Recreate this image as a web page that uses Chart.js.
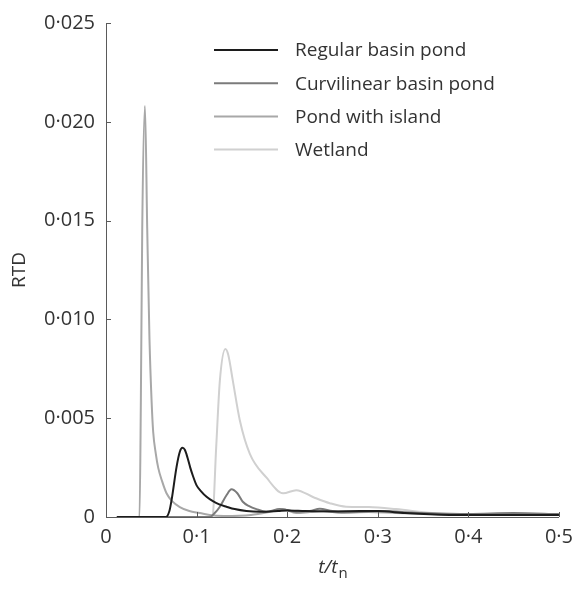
<!DOCTYPE html>
<html>
<head>
<meta charset="utf-8">
<script src="https://cdn.jsdelivr.net/npm/chart.js"></script>
<style>
  body { margin: 0; background: #fff; }
  canvas { display: block; }
</style>
</head>
<body>
<canvas id="rtdChart" width="581" height="589"></canvas>
<script>
// values: t/tn and RTD for each pond
const seriesLabels = ['Regular basin pond', 'Curvilinear basin pond', 'Pond with island', 'Wetland'];
const seriesColours = ['#1c1c1c', '#7b7b7b', '#a8a8a8', '#d0d0d0'];

const regularT = [0.012, 0.066, 0.070, 0.0724, 0.0779, 0.0815, 0.0844, 0.087, 0.09, 0.093, 0.0962, 0.10, 0.105, 0.111, 0.118, 0.125, 0.133, 0.142, 0.155, 0.17, 0.19, 0.2, 0.22, 0.25, 0.28, 0.3, 0.33, 0.37, 0.42, 0.5];
const regularRTD = [0, 0, 0.0003, 0.00086, 0.00254, 0.0033, 0.0035, 0.0034, 0.003, 0.0025, 0.00205, 0.0016, 0.0013, 0.00102, 0.0008, 0.00064, 0.00052, 0.0004, 0.0003, 0.00026, 0.0003, 0.00033, 0.0003, 0.00028, 0.0003, 0.0003, 0.0002, 0.00012, 0.0001, 0.0001];

const curviT = [0.012, 0.1145, 0.12, 0.1257, 0.133, 0.1385, 0.145, 0.151, 0.158, 0.166, 0.177, 0.192, 0.2, 0.21, 0.225, 0.236, 0.25, 0.28, 0.3, 0.35, 0.4, 0.45, 0.5];
const curviRTD = [0, 0, 0.0002, 0.00052, 0.0011, 0.0014, 0.0012, 0.00077, 0.00055, 0.0004, 0.00027, 0.0004, 0.00035, 0.00027, 0.0003, 0.00042, 0.0003, 0.00025, 0.0003, 0.0002, 0.00015, 0.0002, 0.00015];

const islandT = [0.012, 0.037, 0.0385, 0.040, 0.043, 0.0455, 0.048, 0.0503, 0.0521, 0.055, 0.0576, 0.062, 0.0668, 0.073, 0.0815, 0.092, 0.1035, 0.1145, 0.13, 0.16, 0.18, 0.195, 0.21, 0.225, 0.24, 0.26, 0.29, 0.32, 0.36, 0.4, 0.45, 0.5];
const islandRTD = [0, 0, 0.006, 0.0146, 0.0208, 0.0146, 0.009, 0.0059, 0.0043, 0.0032, 0.0025, 0.0018, 0.0012, 0.0008, 0.0005, 0.0003, 0.0002, 0.0001, 0.00005, 0.0001, 0.00025, 0.0004, 0.0002, 0.00025, 0.0003, 0.0002, 0.00025, 0.0002, 0.00015, 0.0001, 0.00012, 0.0001];

const wetlandT = [0.012, 0.1175, 0.1216, 0.1257, 0.1318, 0.135, 0.14, 0.1477, 0.1588, 0.177, 0.1955, 0.21, 0.229, 0.247, 0.265, 0.29, 0.32, 0.36, 0.4, 0.45, 0.5];
const wetlandRTD = [0, 0, 0.0035, 0.0069, 0.0085, 0.0082, 0.0069, 0.0049, 0.0032, 0.002, 0.0012, 0.00136, 0.001, 0.0007, 0.00052, 0.0005, 0.0004, 0.0002, 0.00012, 0.00015, 0.0001];

const xTicks = [0, 0.1, 0.2, 0.3, 0.4, 0.5];
const yTicks = [0, 0.005, 0.010, 0.015, 0.020, 0.025];

const textColour = '#333333';
const axisColour = '#5a5a5a';
const fontFamily = "'Open Sans', sans-serif";

function toPoints(ts, vs) {
  return ts.map((t, i) => ({ x: t, y: vs[i] }));
}

function midDot(v, digits) {
  if (v === 0) return '0';
  return v.toFixed(digits).replace('.', '\u00B7');
}

const allT = [regularT, curviT, islandT, wetlandT];
const allRTD = [regularRTD, curviRTD, islandRTD, wetlandRTD];

const datasets = seriesLabels.map((label, i) => ({
  label: label,
  data: toPoints(allT[i], allRTD[i]),
  borderColor: seriesColours[i],
  backgroundColor: seriesColours[i],
  borderWidth: 2,
  pointRadius: 0,
  cubicInterpolationMode: 'monotone',
  fill: false
}));

// ticks that point into the plot, like the printed figure
const inwardTicks = {
  id: 'inwardTicks',
  afterDraw(chart) {
    const ctx = chart.ctx;
    const xs = chart.scales.x, ys = chart.scales.y;
    const area = chart.chartArea;
    ctx.save();
    ctx.strokeStyle = axisColour;
    ctx.lineWidth = 1;
    ctx.beginPath();
    xTicks.forEach(v => {
      const px = Math.round(xs.getPixelForValue(v)) + 0.5;
      ctx.moveTo(px, area.bottom);
      ctx.lineTo(px, area.bottom - 5);
    });
    yTicks.forEach(v => {
      const py = Math.round(ys.getPixelForValue(v)) + 0.5;
      ctx.moveTo(area.left, py);
      ctx.lineTo(area.left + 5, py);
    });
    ctx.stroke();
    ctx.restore();
  }
};

// axis titles and the legend block
const titlesAndLegend = {
  id: 'titlesAndLegend',
  afterDraw(chart) {
    const ctx = chart.ctx;
    const area = chart.chartArea;
    ctx.save();
    ctx.fillStyle = textColour;

    // y title
    ctx.font = '19px ' + fontFamily;
    ctx.textAlign = 'center';
    ctx.textBaseline = 'middle';
    ctx.translate(20, (area.top + area.bottom) / 2);
    ctx.rotate(-Math.PI / 2);
    ctx.fillText('RTD', 0, 0);
    ctx.setTransform(1, 0, 0, 1, 0, 0);

    // x title: t/t with subscript n
    const cx = (area.left + area.right) / 2;
    ctx.textBaseline = 'alphabetic';
    ctx.textAlign = 'left';
    ctx.font = 'italic 19px ' + fontFamily;
    const mainW = ctx.measureText('t/t').width;
    ctx.font = '15px ' + fontFamily;
    const subW = ctx.measureText('n').width;
    const x0 = cx - (mainW + subW) / 2;
    ctx.font = 'italic 19px ' + fontFamily;
    ctx.fillText('t/t', x0, 573);
    ctx.font = '15px ' + fontFamily;
    ctx.fillText('n', x0 + mainW + 1, 578);

    // legend
    ctx.font = '19px ' + fontFamily;
    ctx.textBaseline = 'middle';
    chart.data.datasets.forEach((ds, i) => {
      const y = 50 + i * 33.2;
      ctx.strokeStyle = ds.borderColor;
      ctx.lineWidth = 2;
      ctx.beginPath();
      ctx.moveTo(214, y);
      ctx.lineTo(278, y);
      ctx.stroke();
      ctx.fillStyle = textColour;
      ctx.fillText(ds.label, 295, y + 1);
    });
    ctx.restore();
  }
};

const config = {
  type: 'line',
  data: { datasets: datasets },
  options: {
    responsive: false,
    animation: false,
    devicePixelRatio: 1,
    layout: { padding: { top: 21, right: 21, left: 0, bottom: 0 } },
    plugins: {
      legend: { display: false },
      tooltip: { enabled: false }
    },
    scales: {
      x: {
        type: 'linear',
        min: 0,
        max: 0.5,
        afterFit: s => { s.height = 72; },
        afterBuildTicks: s => { s.ticks = xTicks.map(v => ({ value: v })); },
        grid: { display: false, drawTicks: false },
        border: { display: true, color: axisColour, width: 1 },
        ticks: {
          padding: 8,
          color: textColour,
          font: { family: fontFamily, size: 20 },
          maxRotation: 0,
          autoSkip: false,
          callback: v => midDot(v, 1)
        }
      },
      y: {
        type: 'linear',
        min: 0,
        max: 0.025,
        afterFit: s => { s.width = 106; },
        afterBuildTicks: s => { s.ticks = yTicks.map(v => ({ value: v })); },
        grid: { display: false, drawTicks: false },
        border: { display: true, color: axisColour, width: 1 },
        ticks: {
          padding: 11,
          color: textColour,
          font: { family: fontFamily, size: 20 },
          autoSkip: false,
          callback: v => midDot(v, 3)
        }
      }
    }
  },
  plugins: [inwardTicks, titlesAndLegend]
};

const rtdChart = new Chart(document.getElementById('rtdChart'), config);
</script>
</body>
</html>
